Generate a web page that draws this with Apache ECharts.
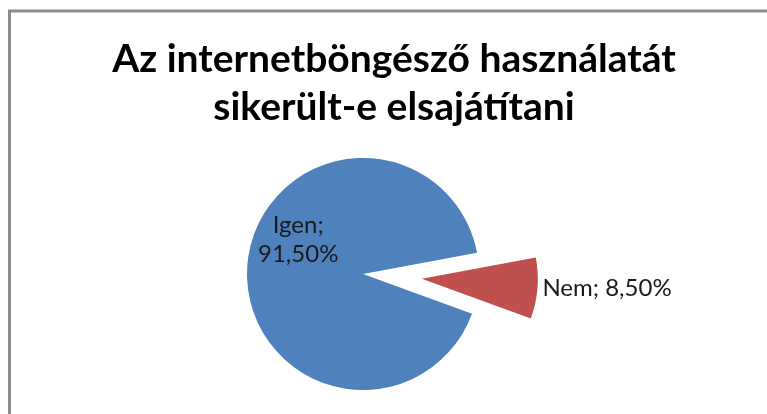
<!DOCTYPE html>
<html>
<head>
<meta charset="utf-8">
<script src="https://cdn.jsdelivr.net/npm/echarts@6/dist/echarts.min.js"></script>
<style>
  html, body { margin: 0; padding: 0; background: #fff; }
  #main { width: 767px; height: 414px; }
</style>
</head>
<body>
<div id="main"></div>
<script>
var categories = ['Igen', 'Nem'];
var values = [91.5, 8.5];
var colors = ['#4F81BD', '#C0504D'];
var titleText = 'Az internetböngésző használatát\nsikerült-e elsajátítani';

var chart = echarts.init(document.getElementById('main'));

function fmt(v) {
    return v.toFixed(2).replace('.', ',') + '%';
}

var option = {
    animation: false,
    backgroundColor: '#fff',
    graphic: [
        {
            type: 'rect',
            shape: { x: 9.5, y: 11, width: 900, height: 600 },
            style: { fill: 'none', stroke: '#8c8c8c', lineWidth: 3 }
        },
        {
            type: 'text',
            x: 394,
            y: 35,
            style: {
                text: titleText,
                textAlign: 'center',
                textVerticalAlign: 'top',
                font: 'bold 39px Lato',
                lineHeight: 48,
                fill: '#000'
            }
        }
    ],
    series: [
        {
            type: 'pie',
            center: [363, 274],
            radius: 116,
            startAngle: 340,
            selectedMode: 'single',
            selectedOffset: 59,
            avoidLabelOverlap: false,
            label: {
                fontFamily: 'Lato',
                fontSize: 24,
                color: '#1a1a1a',
                lineHeight: 29
            },
            labelLine: { show: false, length: 0, length2: 0 },
            emphasis: { disabled: true },
            data: categories.map(function (name, i) {
                var item = {
                    name: name,
                    value: values[i],
                    itemStyle: { color: colors[i] }
                };
                if (i === 0) {
                    item.label = {
                        position: 'inside',
                        offset: [-4, -29],
                        formatter: function (p) { return p.name + ';\n' + fmt(p.value); }
                    };
                } else {
                    item.selected = true;
                    item.label = {
                        position: 'outside',
                        formatter: function (p) { return p.name + '; ' + fmt(p.value); }
                    };
                }
                return item;
            })
        }
    ]
};

chart.setOption(option);
</script>
</body>
</html>
